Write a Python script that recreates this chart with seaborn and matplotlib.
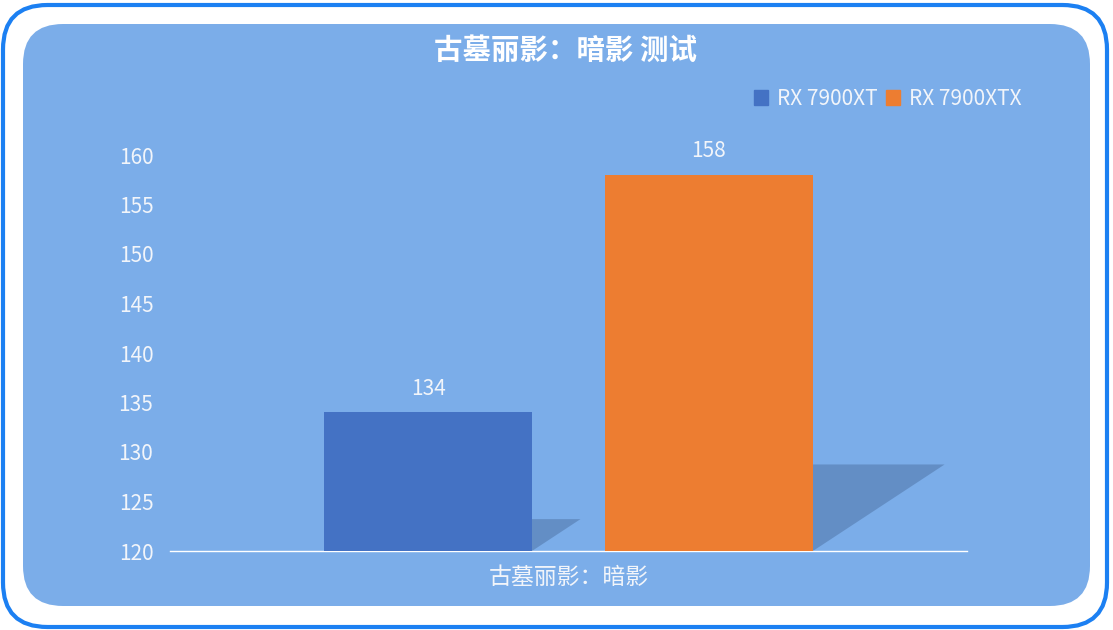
import pandas as pd
import matplotlib
matplotlib.use('Agg')
import matplotlib.pyplot as plt
import seaborn as sns
from matplotlib.patches import FancyBboxPatch, Polygon

# chart data
game = ['古墓丽影：暗影']
cards = ['RX 7900XT', 'RX 7900XTX']
fps = [134, 158]
title = '古墓丽影：暗影 测试'
y_ticks = [120, 125, 130, 135, 140, 145, 150, 155, 160]

bar_colors = ['#4472C4', '#ED7D31']
bg_color = '#7BADE9'
text_color = '#F2F5FA'

df = pd.DataFrame({'game': game * len(cards), 'card': cards, 'fps': fps})

sns.set_style('white')
plt.rcParams['font.family'] = ['Noto Sans CJK SC', 'DejaVu Sans']

fig = plt.figure(figsize=(11.13, 6.3), dpi=100)
fig.patch.set_facecolor('white')

# outer border and inner panel
W, H = 1113, 630
outer = FancyBboxPatch((3 / W, 3 / H), 1104 / W, 622 / H,
                       boxstyle='round,pad=0,rounding_size=0.04',
                       transform=fig.transFigure, facecolor='white',
                       edgecolor='#1C80F2', linewidth=3, mutation_aspect=W / H,
                       zorder=-2)
inner = FancyBboxPatch((23 / W, 24 / H), 1067 / W, 582 / H,
                       boxstyle='round,pad=0,rounding_size=0.036',
                       transform=fig.transFigure, facecolor=bg_color,
                       edgecolor='none', mutation_aspect=W / H, zorder=-1)
fig.patches.extend([outer, inner])

ax = fig.add_axes([170 / W, 1 - 551 / H, 797 / W, (551 - 155) / H])
ax.set_facecolor('none')

sns.barplot(data=df, x='game', y='fps', hue='card', palette=bar_colors,
            width=0.705, gap=0.26, saturation=1, linewidth=0, ax=ax, zorder=3)

ax.set_ylim(120, 160)
ax.set_xlim(-0.5, 0.5)
ax.set_yticks(y_ticks)

# perspective shadows behind the bars
px_x = 797.0
px_y = (551 - 155) / 40.0
for patch in list(ax.patches):
    x0 = patch.get_x()
    x1 = x0 + patch.get_width()
    h = patch.get_height() - 120
    top = 120 + 0.23 * h
    shift = 0.35 * h * px_y / px_x
    shadow = Polygon([(x0, 120), (x1, 120), (x1 + shift, top), (x0 + shift, top)],
                     closed=True, facecolor='#5E87BC', alpha=0.8,
                     edgecolor='none', zorder=2)
    ax.add_patch(shadow)

for cont in ax.containers:
    ax.bar_label(cont, padding=9, fontsize=15, color=text_color)

ax.set_xlabel('')
ax.set_ylabel('')
ax.tick_params(axis='both', length=0, labelsize=15, labelcolor=text_color)
ax.tick_params(axis='y', pad=12)
ax.tick_params(axis='x', pad=11)
ax.set_xticks([0])
ax.set_xticklabels(game, fontsize=16.5)

for side in ['top', 'left', 'right']:
    ax.spines[side].set_visible(False)
ax.spines['bottom'].set_color('white')
ax.spines['bottom'].set_linewidth(1)

ax.legend_.remove()
handles = [plt.Rectangle((0, 0), 1, 1, color=c) for c in bar_colors]
fig.legend(handles, cards, loc='center right', bbox_to_anchor=(1040 / W, 1 - 99 / H),
           ncol=2, frameon=False, fontsize=15, labelcolor=text_color,
           handlelength=0.7, handleheight=0.7, handletextpad=0.4,
           columnspacing=0.4)

fig.text(565 / W, 1 - 51 / H, title, ha='center', va='center',
         fontsize=20.5, fontweight='bold', color='white')

fig.savefig('out.png', dpi=100, facecolor='white')
